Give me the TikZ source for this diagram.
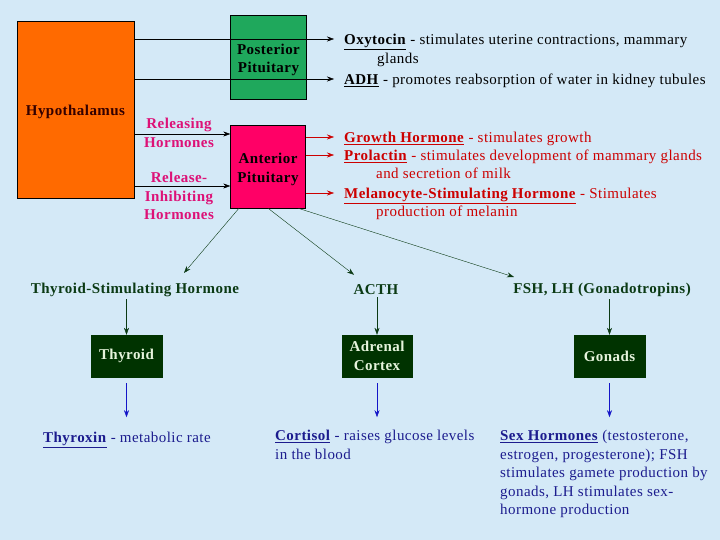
\documentclass[tikz,border=0pt]{standalone}
\usepackage{fontspec}
\setmainfont{Liberation Serif}[LetterSpace=3]
\usepackage{xcolor}
\definecolor{skyback}{HTML}{D4E9F7}
\definecolor{hypoorange}{HTML}{FF6A00}
\definecolor{postgreen}{HTML}{1FA85C}
\definecolor{antpink}{HTML}{FF0066}
\definecolor{relpink}{HTML}{DD1177}
\definecolor{hormred}{HTML}{CC0000}
\definecolor{forest}{HTML}{0B3A14}
\definecolor{glandgreen}{HTML}{003300}
\definecolor{glandtext}{HTML}{E6F4DC}
\definecolor{navy}{HTML}{1C1C8E}
\definecolor{arrowblue}{HTML}{1414C8}
\newcommand{\slidefont}{\fontsize{15}{18.5}\selectfont}
\newcommand{\lowstrut}{\rule{0pt}{16pt}}
\usepackage{tikz}
\usetikzlibrary{positioning, arrows.meta}
\tikzset{
    lobe/.style = {draw=black, thin, minimum width=76, minimum height=84,
                   align=center, font=\slidefont\bfseries},
    gland/.style = {draw=glandgreen, fill=glandgreen, minimum width=71,
                    minimum height=42, align=center, text=glandtext, font=\slidefont\bfseries},
    tropic/.style = {forest, inner sep=2pt, font=\slidefont\bfseries},
    factor/.style = {relpink, align=center, font=\slidefont\bfseries},
    hormone/.style = {anchor=west, inner xsep=10pt, inner ysep=0pt,
                      text height=12pt, text depth=1pt},
    hangline/.style = {anchor=west, inner sep=0pt, text height=12pt, text depth=1pt},
    product/.style = {navy, inner sep=0pt, anchor=north west, align=left},
    arrow/.style = {-{Stealth[length=7pt,width=5pt]}, thin, color=black},
    redarrow/.style = {-{Stealth[length=7pt,width=5pt]}, thin, color=hormred},
    greenarrow/.style = {-{Stealth[length=7pt,width=5pt]}, thin, color=forest},
    bluearrow/.style = {-{Stealth[length=7pt,width=5pt]}, thin, color=arrowblue},
}

\begin{document}
\begin{tikzpicture}[x=1pt, y=-1pt, font=\slidefont]
        % background
        \fill[skyback] (0,0) rectangle (720,540);
        \useasboundingbox (0,0) rectangle (720,540);
        % hypothalamus and pituitary lobes
        \node[lobe, fill=hypoorange, minimum width=117, minimum height=177, text=black!80!red] (hypo) at (75.5,109.5) {\lowstrut Hypothalamus};
        \node[lobe, fill=postgreen] (post) at (268.5,57) {\lowstrut Posterior\\Pituitary};
        \node[lobe, fill=antpink, minimum width=75, minimum height=83] (ant) at (268,166.5) {\lowstrut Anterior\\Pituitary};
        % posterior hormones
        \node[hormone] (oxy) at (334,39) {\underline{\textbf{Oxytocin}} - stimulates uterine contractions, mammary};
        \node[hangline] (oxy2) at (377,58) {glands};
        \node[hormone] (adh) at (334,79) {\underline{\textbf{ADH}} - promotes reabsorption of water in kidney tubules};
        \draw[arrow] (hypo.east |- oxy.west) -- (oxy.west);
        \draw[arrow] (hypo.east |- adh.west) -- (adh.west);
        % releasing factors
        \node[factor] (rel) at (179,133) {Releasing\\Hormones};
        \node[factor] (inh) at (179,196) {Release-\\Inhibiting\\Hormones};
        \draw[arrow] (hypo.east |- 0,134) -- (ant.west |- 0,134);
        \draw[arrow] (hypo.east |- 0,186) -- (ant.west |- 0,186);
        % anterior hormones
        \begin{scope}[hormred]
        \node[hormone] (gh) at (334,137) {\underline{\textbf{Growth Hormone}} - stimulates growth};
        \node[hormone] (prl) at (334,155) {\underline{\textbf{Prolactin}} - stimulates development of mammary glands};
        \node[hangline] (prl2) at (376,173) {and secretion of milk};
        \node[hormone] (msh) at (334,193) {\underline{\textbf{Melanocyte-Stimulating Hormone}} - Stimulates};
        \node[hangline] (msh2) at (376,211) {production of melanin};
        \end{scope}
        \draw[redarrow] (ant.east |- gh.west) -- (gh.west);
        \draw[redarrow] (ant.east |- prl.west) -- (prl.west);
        \draw[redarrow] (ant.east |- msh.west) -- (msh.west);
        % tropic hormones
        \node[tropic] (tsh) at (135,290) {Thyroid-Stimulating Hormone};
        \node[tropic] (acth) at (376,290) {ACTH};
        \node[tropic] (fsh) at (602,290) {FSH, LH (Gonadotropins)};
        \draw[greenarrow] ([xshift=-29]ant.south) -- ([xshift=49,yshift=8]tsh.north);
        \draw[greenarrow] (ant.south) -- ([xshift=-22,yshift=8]acth.north);
        \draw[greenarrow] ([xshift=30]ant.south) -- ([xshift=-88,yshift=4]fsh.north);
        % target glands
        \node[gland] (thyroid) at (126.5,356) {Thyroid};
        \node[gland, minimum width=70] (adrenal) at (377,356) {Adrenal\\Cortex};
        \node[gland] (gonads) at (609.5,356) {Gonads};
        \draw[greenarrow] (thyroid.north |- tsh.south) -- (thyroid.north);
        \draw[greenarrow] (adrenal.north |- acth.south) -- (adrenal.north);
        \draw[greenarrow] (gonads.north |- fsh.south) -- (gonads.north);
        % end products
        \node[navy, inner sep=0pt, text height=12pt, text depth=1pt] (thyx) at (127,437) {\underline{\textbf{Thyroxin}} - metabolic rate};
        \node[product] (cort) at (275,430) {\underline{\textbf{Cortisol}} - raises glucose levels\\in the blood};
        \node[product] (sex) at (500,430) {\underline{\textbf{Sex Hormones}} (testosterone,\\estrogen, progesterone); FSH\\stimulates gamete production by\\gonads, LH stimulates sex-\\hormone production};
        \draw[bluearrow] ([yshift=-6]thyroid.south) -- ([yshift=-40]thyroid.south);
        \draw[bluearrow] ([yshift=-6]adrenal.south) -- ([yshift=-40]adrenal.south);
        \draw[bluearrow] ([yshift=-6]gonads.south) -- ([yshift=-40]gonads.south);
      \end{tikzpicture}
\end{document}
